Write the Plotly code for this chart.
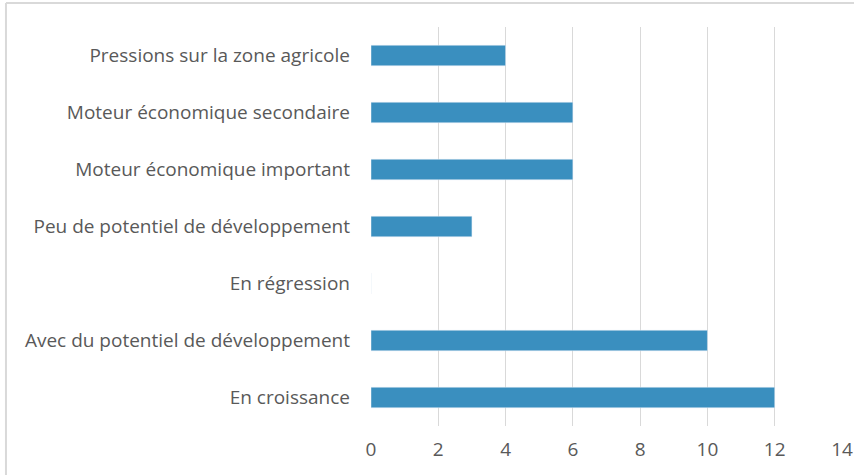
import plotly.graph_objects as go

# Categories listed bottom to top (as plotted on the y axis)
categories = [
    "En croissance",
    "Avec du potentiel de développement",
    "En régression",
    "Peu de potentiel de développement",
    "Moteur économique important",
    "Moteur économique secondaire",
    "Pressions sur la zone agricole",
]
counts = [12, 10, 0, 3, 6, 6, 4]
x_ticks = [0, 2, 4, 6, 8, 10, 12, 14]

fig = go.Figure()

fig.add_trace(go.Bar(
    x=counts,
    y=categories,
    orientation="h",
    marker=dict(color="#3A8FBF"),
    width=0.36,
))

# Light frame around the chart (left and top edges visible)
frame_color = "#D9D9D9"
fig.add_shape(type="line", xref="paper", yref="paper",
              x0=-0.775, x1=-0.775, y0=1.06, y1=-0.2,
              line=dict(color=frame_color, width=2))
fig.add_shape(type="line", xref="paper", yref="paper",
              x0=-0.775, x1=1.1, y0=1.06, y1=1.06,
              line=dict(color=frame_color, width=2))

fig.update_layout(
    width=854,
    height=475,
    margin=dict(l=371, r=12, t=27, b=49),
    plot_bgcolor="white",
    paper_bgcolor="white",
    showlegend=False,
    font=dict(family="Open Sans", size=19, color="#595959"),
    xaxis=dict(
        range=[0, 14],
        tickvals=x_ticks,
        showgrid=True,
        gridcolor="#D9D9D9",
        gridwidth=1,
        zeroline=False,
        showline=False,
        ticks="",
        ticklabelstandoff=10,
        automargin=False,
    ),
    yaxis=dict(
        showgrid=False,
        showline=False,
        ticks="",
        ticklabelstandoff=20,
        automargin=False,
    ),
)

# drop the browser's default body margin so the figure sits at the window corner
fig.write_html("out.html", config={"displayModeBar": False},
               post_script="document.body.style.margin='0';")
